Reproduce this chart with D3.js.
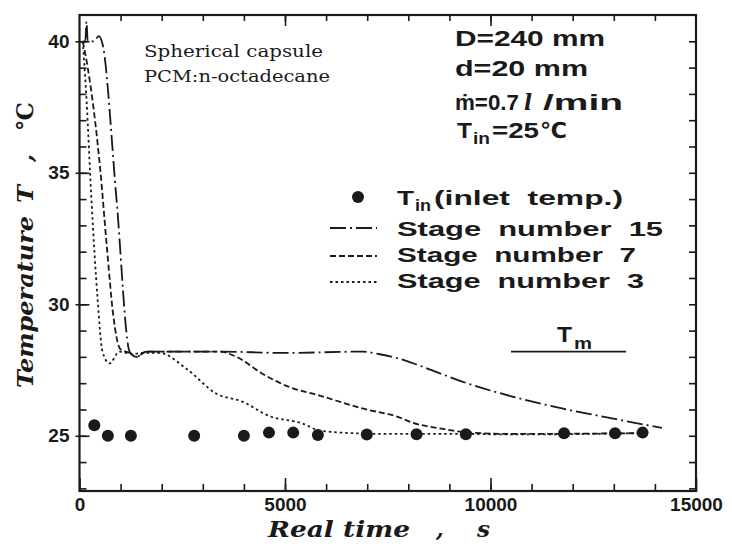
<!DOCTYPE html>
<html><head><meta charset="utf-8">
<script src="https://cdn.jsdelivr.net/npm/d3@7"></script>
<style>
html,body{margin:0;padding:0;background:#fff;}
svg{display:block;}
</style></head>
<body>
<svg id="c" width="732" height="547"></svg>
<script>
// ---- data ----
const inletTemp = [[360,25.4],[690,25.0],[1250,25.0],[2790,25.0],[4000,25.0],[4610,25.12],[5200,25.12],[5800,25.03],[6990,25.05],[8200,25.06],[9400,25.06],[11790,25.1],[13030,25.1],[13700,25.12]];
const stage15 = [[80,40.0],[140,40.0],[170,40.75],[200,40.0],[350,40.0],[470,40.2],[560,39.9],[900,34.0],[1220,28.2],[1380,28.0],[1630,28.2],[3400,28.2],[5000,28.15],[6900,28.2],[7300,28.1],[7780,27.93],[8270,27.67],[9310,27.06],[10530,26.49],[11740,26.04],[12960,25.66],[14170,25.3]];
const stage7 = [[80,40.0],[200,39.0],[500,35.2],[670,32.1],[820,29.6],[990,28.3],[1220,28.15],[1380,28.0],[1630,28.2],[3400,28.2],[3820,28.0],[4450,27.36],[5030,26.9],[5840,26.53],[6880,26.04],[7780,25.7],[8100,25.5],[8770,25.28],[9310,25.15],[10500,25.07],[13700,25.1]];
const stage3 = [[80,40.0],[170,37.8],[290,34.0],[440,30.2],[560,28.2],[730,27.75],[970,28.2],[1300,28.1],[1500,28.15],[1950,28.15],[2600,27.55],[3330,26.6],[3960,26.3],[4620,25.75],[5420,25.47],[5840,25.2],[6640,25.1],[7500,25.07],[9400,25.07],[10500,25.05],[13700,25.1]];
const xTickLabels = [0,5000,10000,15000];
const yTickLabels = [25,30,35,40];
const meltTemp = 28.2;
const meltSpan = [10500, 13300];

// ---- layout ----
const svg = d3.select("#c");
const L=79.5, R=696, T=15, B=491;
const x = d3.scaleLinear().domain([0,15000]).range([L,R]);
const y = d3.scaleLinear().domain([22.9,41]).range([B,T]);
const ink = "#1a1a1a";
const sans = "'Liberation Sans', Arial, 'DejaVu Sans', sans-serif";
const serif = "'DejaVu Serif', 'Liberation Serif', serif";

function txt(px,py,s,size,w,opts={}){
  const t = svg.append("text").attr("x",px).attr("y",py).attr("font-family",opts.family||sans)
    .attr("font-weight",opts.weight||"bold").attr("font-size",size).attr("fill",ink).text(s);
  if(opts.italic) t.attr("font-style","italic");
  if(w) t.attr("textLength",w).attr("lengthAdjust",opts.adjust||"spacingAndGlyphs");
  if(opts.transform) t.attr("transform",opts.transform);
  return t;
}

// axes
const minorX = d3.range(1000,15000,1000);
const minorY = d3.range(23,41,1);
function styleAxis(g){ g.select(".domain").remove(); g.selectAll("line").attr("stroke",ink).attr("stroke-width",1.6); }

svg.append("g").attr("transform",`translate(0,${B})`)
  .call(d3.axisBottom(x).tickValues(minorX).tickSize(-7).tickFormat("")).call(styleAxis);
svg.append("g").attr("transform",`translate(0,${B})`)
  .call(d3.axisBottom(x).tickValues(xTickLabels).tickSize(-13).tickPadding(7).tickFormat(d3.format("d")))
  .call(styleAxis)
  .call(g=>g.selectAll("text").attr("font-family",sans).attr("font-weight","bold").attr("font-size",19).attr("fill",ink));
svg.append("g").attr("transform",`translate(0,${T})`)
  .call(d3.axisTop(x).tickValues(minorX).tickSize(-6).tickFormat("")).call(styleAxis);
svg.append("g").attr("transform",`translate(0,${T})`)
  .call(d3.axisTop(x).tickValues([5000,10000]).tickSize(-11).tickFormat("")).call(styleAxis);

svg.append("g").attr("transform",`translate(${L},0)`)
  .call(d3.axisLeft(y).tickValues(minorY).tickSize(-7).tickFormat("")).call(styleAxis);
svg.append("g").attr("transform",`translate(${L},0)`)
  .call(d3.axisLeft(y).tickValues(yTickLabels).tickSize(4).tickPadding(6).tickFormat(d3.format("d")))
  .call(styleAxis)
  .call(g=>g.selectAll("text").attr("font-family",sans).attr("font-weight","bold").attr("font-size",19).attr("fill",ink));
svg.append("g").attr("transform",`translate(${L},0)`)
  .call(d3.axisLeft(y).tickValues(yTickLabels).tickSize(-10).tickFormat("")).call(styleAxis);
svg.append("g").attr("transform",`translate(${R},0)`)
  .call(d3.axisRight(y).tickValues(minorY).tickSize(-7).tickFormat("")).call(styleAxis);

// frame
svg.append("rect").attr("x",L).attr("y",T).attr("width",R-L).attr("height",B-T)
  .attr("fill","none").attr("stroke",ink).attr("stroke-width",2.2);

// curves
const line = d3.line().x(d=>x(d[0])).y(d=>y(d[1])).curve(d3.curveMonotoneX);
const series = [
  {data:stage15, dash:"16,4,2,4", name:"Stage number 15", ly:228, ty:236, end:663},
  {data:stage7, dash:"6,3", name:"Stage number 7", ly:256, ty:262, end:636},
  {data:stage3, dash:"2.5,3", name:"Stage number 3", ly:282, ty:288, end:644}
];
series.forEach(s=>{
  svg.append("path").datum(s.data).attr("d",line).attr("fill","none")
    .attr("stroke",ink).attr("stroke-width",1.8).attr("stroke-dasharray",s.dash);
});

// inlet points
svg.append("g").selectAll("circle").data(inletTemp).join("circle")
  .attr("cx",d=>x(d[0])).attr("cy",d=>y(d[1])).attr("r",6).attr("fill",ink);

// melting temperature line
svg.append("line").attr("x1",x(meltSpan[0])).attr("x2",x(meltSpan[1]))
  .attr("y1",y(meltTemp)).attr("y2",y(meltTemp)).attr("stroke",ink).attr("stroke-width",1.8);
txt(557, y(meltTemp)-10, "T", 22, 15);
txt(574, y(meltTemp)-3, "m", 17, 18);

// legend
const fs = 21;
svg.append("circle").attr("cx",358).attr("cy",197).attr("r",6).attr("fill",ink);
txt(397,205,"T",fs,17);
txt(415,211,"in",16,16);
txt(434,205,"(inlet  temp.)",fs,189).attr("xml:space","preserve");
series.forEach(s=>{
  svg.append("line").attr("x1",330).attr("x2",377).attr("y1",s.ly).attr("y2",s.ly)
    .attr("stroke",ink).attr("stroke-width",1.8).attr("stroke-dasharray",s.dash);
  txt(397,s.ty,s.name.replace(/ /g,"  "),fs,s.end-397).attr("xml:space","preserve");
});

// annotations
txt(455,46,"D=240 mm",22,150);
txt(455,76,"d=20 mm",22,133);
txt(455,110,"\u1E41=0.7",22,64);
txt(524,110,"l",22,8,{family:serif,italic:true});
txt(543,110,"/min",22,80);
txt(457,138,"T",22,15);
txt(473,144,"in",16,17);
txt(492,138,"=25",22,47);
txt(540,138,"\u2103",22,27,{family:"'DejaVu Sans', sans-serif"});

txt(144,57,"Spherical capsule",16,179,{family:serif,weight:"normal"});
txt(144,82,"PCM:n-octadecane",16,186,{family:serif,weight:"normal"});

// axis titles
const tf = {family:serif,italic:true};
txt(268,537,"Real time",22,142,tf);
txt(436,537,",",22,null,tf);
txt(477,537,"s",22,13,tf);
txt(0,0,"Temperature",23,172,Object.assign({transform:"translate(33,388) rotate(-90)"},tf));
txt(0,0,"T",23,18,Object.assign({transform:"translate(33,203) rotate(-90)"},tf));
txt(0,0,",",23,null,Object.assign({transform:"translate(33,162) rotate(-90)"},tf));
txt(0,0,"\u2103",23,28,Object.assign({transform:"translate(33,130) rotate(-90)",family:"'DejaVu Serif', serif"},{italic:false}));
</script>
</body></html>
